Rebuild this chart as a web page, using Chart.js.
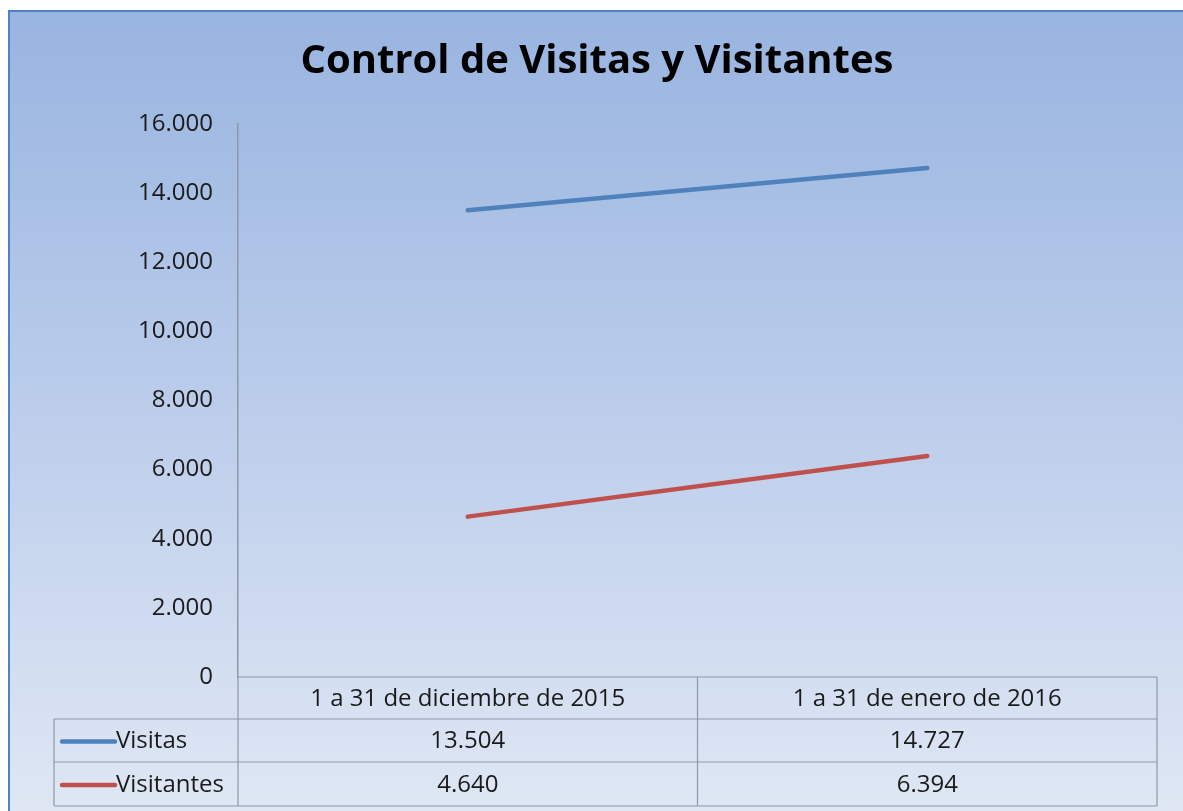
<!DOCTYPE html>
<html lang="es">
<head>
    <meta charset="UTF-8">
    <title>Control de Visitas y Visitantes</title>
    <script src="https://cdn.jsdelivr.net/npm/chart.js"></script>
    <style>
        body { margin: 0; background: #fff; }
        canvas { display: block; }
    </style>
</head>
<body>
    <canvas id="visitChart" width="1183" height="811"></canvas>
    <script>
        const titulo = 'Control de Visitas y Visitantes';
        const periodos = ['1 a 31 de diciembre de 2015', '1 a 31 de enero de 2016'];
        const visitas = [13504, 14727];
        const visitantes = [4640, 6394];
        const yTicks = [0, 2000, 4000, 6000, 8000, 10000, 12000, 14000, 16000];

        const FONT = '"Open Sans", "DejaVu Sans", sans-serif';
        const TEXT = '#1a1a1a';
        const LINE = '#8e98a8';

        function fmt(v) {
            return String(v).replace(/\B(?=(\d{3})+(?!\d))/g, '.');
        }

        // fondo con degradado + tabla de datos al estilo Excel
        const excelLook = {
            id: 'excelLook',
            beforeDraw(chart) {
                const ctx = chart.ctx;
                ctx.save();
                ctx.fillStyle = '#ffffff';
                ctx.fillRect(0, 0, chart.width, chart.height);
                const g = ctx.createLinearGradient(0, 11, 0, chart.height);
                g.addColorStop(0, '#98b4e0');
                g.addColorStop(0.5, '#bccdeb');
                g.addColorStop(1, '#dfe7f4');
                ctx.fillStyle = g;
                ctx.fillRect(9, 11, chart.width, chart.height);
                ctx.strokeStyle = '#4f81c7';
                ctx.lineWidth = 2;
                ctx.strokeRect(9, 11, chart.width + 10, chart.height + 10);
                ctx.restore();
            },
            afterDraw(chart) {
                const ctx = chart.ctx;
                const area = chart.chartArea;
                const xs = chart.scales.x;
                const datasets = chart.data.datasets;
                const cols = periodos.map((_, i) => xs.getPixelForValue(i));
                const mid = (cols[0] + cols[1]) / 2;
                const left = 54;
                const rows = [area.bottom, area.bottom + 42, area.bottom + 85, area.bottom + 129];

                ctx.save();
                // titulo
                ctx.fillStyle = '#000';
                ctx.font = 'bold 40px ' + FONT;
                ctx.textAlign = 'center';
                ctx.textBaseline = 'middle';
                ctx.fillText(titulo, 597, 62);

                // lineas de la tabla
                ctx.strokeStyle = LINE;
                ctx.lineWidth = 1.2;
                ctx.beginPath();
                ctx.moveTo(area.left, rows[0]); ctx.lineTo(area.right, rows[0]);
                for (let r = 1; r < rows.length; r++) {
                    ctx.moveTo(left, rows[r]); ctx.lineTo(area.right, rows[r]);
                }
                ctx.moveTo(area.left, rows[0]); ctx.lineTo(area.left, rows[3]);
                ctx.moveTo(left, rows[1]); ctx.lineTo(left, rows[3]);
                ctx.moveTo(mid, rows[0]); ctx.lineTo(mid, rows[3]);
                ctx.moveTo(area.right, rows[0]); ctx.lineTo(area.right, rows[3]);
                ctx.stroke();

                // textos
                ctx.font = '24px ' + FONT;
                ctx.fillStyle = TEXT;
                ctx.textAlign = 'center';
                periodos.forEach((p, i) => {
                    ctx.fillText(p, cols[i], (rows[0] + rows[1]) / 2 + 1);
                });
                datasets.forEach((ds, r) => {
                    const cy = (rows[r + 1] + rows[r + 2]) / 2 + 1;
                    ds.data.forEach((v, i) => {
                        ctx.textAlign = 'center';
                        ctx.fillText(fmt(v), cols[i], cy);
                    });
                    ctx.strokeStyle = ds.borderColor;
                    ctx.lineWidth = 4.5;
                    ctx.lineCap = 'round';
                    ctx.beginPath();
                    ctx.moveTo(62, cy); ctx.lineTo(115, cy);
                    ctx.stroke();
                    ctx.textAlign = 'left';
                    ctx.fillText(ds.label, 116, cy);
                });
                ctx.restore();
            }
        };

        const ctx = document.getElementById('visitChart').getContext('2d');
        new Chart(ctx, {
            type: 'line',
            data: {
                labels: periodos,
                datasets: [{
                    label: 'Visitas',
                    data: visitas,
                    borderColor: '#4f81bd',
                    borderWidth: 4.5,
                    borderCapStyle: 'round',
                    pointRadius: 0,
                    fill: false,
                    tension: 0
                }, {
                    label: 'Visitantes',
                    data: visitantes,
                    borderColor: '#c0504d',
                    borderWidth: 4.5,
                    borderCapStyle: 'round',
                    pointRadius: 0,
                    fill: false,
                    tension: 0
                }]
            },
            options: {
                responsive: false,
                animation: false,
                layout: { padding: { top: 124, bottom: 134, right: 26, left: 0 } },
                plugins: {
                    legend: { display: false },
                    title: { display: false },
                    tooltip: { enabled: false }
                },
                scales: {
                    x: {
                        display: false,
                        offset: true
                    },
                    y: {
                        min: 0,
                        max: 16000,
                        afterBuildTicks: scale => {
                            scale.ticks = yTicks.map(v => ({ value: v }));
                        },
                        afterFit: scale => { scale.width = 238; },
                        grid: { display: false },
                        border: { display: true, color: LINE, width: 1.5 },
                        ticks: {
                            padding: 17,
                            color: TEXT,
                            font: { family: FONT, size: 24 },
                            callback: v => fmt(v)
                        }
                    }
                }
            },
            plugins: [excelLook]
        });
    </script>
</body>
</html>
